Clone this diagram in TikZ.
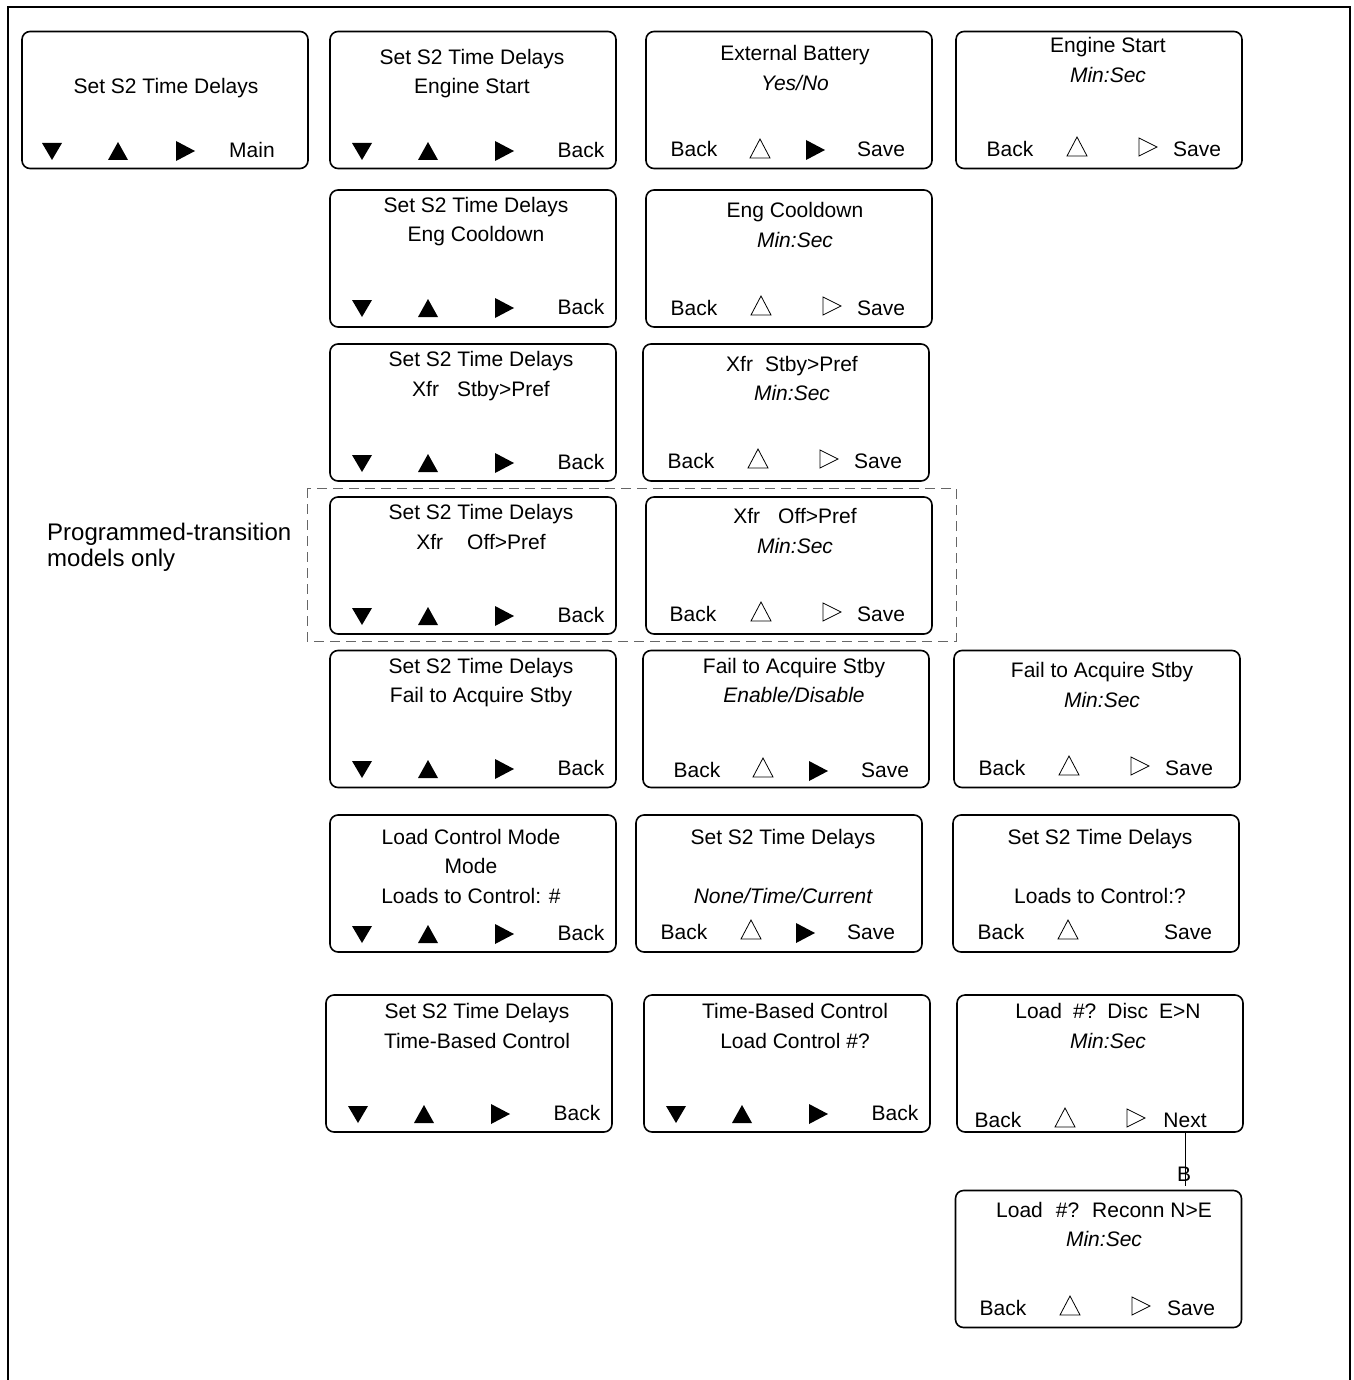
\documentclass[tikz,border=0pt]{standalone}
\usepackage{fontspec}
\setmainfont{Liberation Sans}
\begin{document}
\begin{tikzpicture}[x=1pt,y=-1pt,
  scr/.style={draw, line width=1.6pt, rounded corners=8pt, minimum width=286pt, minimum height=137pt, inner sep=0pt},
  lbl/.style={font=\fontsize{21}{25}\selectfont, anchor=mid, inner sep=0pt, yshift=-5pt},
  itl/.style={font=\fontsize{21}{25}\selectfont\itshape, anchor=mid, inner sep=0pt, yshift=-5pt},
  side/.style={font=\fontsize{24}{28}\selectfont, anchor=mid west, inner sep=0pt, yshift=-5pt},
  tridn/.pic={\fill (-10,-8) -- (10,-8) -- (0,9) -- cycle;},
  triup/.pic={\fill (-10,9) -- (10,9) -- (0,-9) -- cycle;},
  trirt/.pic={\fill (-9,-10) -- (-9,10) -- (10,0) -- cycle;},
  otriup/.pic={\draw[line width=0.8pt, line join=miter] (-10,9) -- (10,9) -- (0,-10) -- cycle;},
  otrirt/.pic={\draw[line width=0.8pt, line join=miter] (-9,-9) -- (-9,9) -- (9,0) -- cycle;},
]
\useasboundingbox (0,0) rectangle (1353,1380);
% outer frame
\draw[line width=2pt] (8,1381) -- (8,7) -- (1350,7) -- (1350,1381);

% dashed group
\draw[line width=0.8pt, draw=black!60, dash pattern=on 10pt off 6pt] (307,488) rectangle (956,641);
\node[side] (prog1) at (47,533) {Programmed-transition};
\node[side] (prog2) at (47,559) {models only};

% ---------- Row A ----------
\node[scr] (a1) at (165,100) {};
\node[lbl] (a1t) at (166,86) {Set S2 Time Delays};
\pic at (52,151) {tridn}; \pic at (118,151) {triup}; \pic at (185,151) {trirt};
\node[lbl] (a1b) at (252,150) {Main};

\node[scr] (a2) at (473,100) {};
\node[lbl] (a2t1) at (472,57) {Set S2 Time Delays};
\node[lbl] (a2t2) at (472,86) {Engine Start};
\pic at (362,151) {tridn}; \pic at (428,151) {triup}; \pic at (504,151) {trirt};
\node[lbl] (a2b) at (581,150) {Back};

\node[scr] (a3) at (789,100) {};
\node[lbl] (a3t1) at (795,53) {External Battery};
\node[itl] (a3t2) at (795,83) {Yes/No};
\node[lbl] (a3b1) at (694,149) {Back};
\pic at (760,149) {otriup}; \pic at (815,150) {trirt};
\node[lbl] (a3b2) at (881,149) {Save};

\node[scr] (a4) at (1099,100) {};
\node[lbl] (a4t1) at (1108,45) {Engine Start};
\node[itl] (a4t2) at (1108,75) {Min:Sec};
\node[lbl] (a4b1) at (1010,149) {Back};
\pic at (1077,147) {otriup}; \pic at (1148,147) {otrirt};
\node[lbl] (a4b2) at (1197,149) {Save};

% ---------- Row B ----------
\node[scr] (b2) at (473,258.5) {};
\node[lbl] (b2t1) at (476,205) {Set S2 Time Delays};
\node[lbl] (b2t2) at (476,234) {Eng Cooldown};
\pic at (362,308) {tridn}; \pic at (428,308) {triup}; \pic at (504,308) {trirt};
\node[lbl] (b2b) at (581,307) {Back};

\node[scr] (b3) at (789,258.5) {};
\node[lbl] (b3t1) at (795,210) {Eng Cooldown};
\node[itl] (b3t2) at (795,240) {Min:Sec};
\node[lbl] (b3b1) at (694,308) {Back};
\pic at (761,306) {otriup}; \pic at (832,306) {otrirt};
\node[lbl] (b3b2) at (881,308) {Save};

% ---------- Row C ----------
\node[scr] (c2) at (473,412.5) {};
\node[lbl] (c2t1) at (481,359) {Set S2 Time Delays};
\node[lbl] (c2t2) at (481,389) {Xfr\hspace{18pt}Stby>Pref};
\pic at (362,463) {tridn}; \pic at (428,463) {triup}; \pic at (504,463) {trirt};
\node[lbl] (c2b) at (581,462) {Back};

\node[scr] (c3) at (786,412.5) {};
\node[lbl] (c3t1) at (792,364) {Xfr\hspace{12pt}Stby>Pref};
\node[itl] (c3t2) at (792,393) {Min:Sec};
\node[lbl] (c3b1) at (691,461) {Back};
\pic at (758,459) {otriup}; \pic at (829,459) {otrirt};
\node[lbl] (c3b2) at (878,461) {Save};

% ---------- Row D ----------
\node[scr] (d2) at (473,565.5) {};
\node[lbl] (d2t1) at (481,512) {Set S2 Time Delays};
\node[lbl] (d2t2) at (481,542) {Xfr\hspace{24pt}Off>Pref};
\pic at (362,616) {tridn}; \pic at (428,616) {triup}; \pic at (504,616) {trirt};
\node[lbl] (d2b) at (581,615) {Back};

\node[scr] (d3) at (789,565.5) {};
\node[lbl] (d3t1) at (795,516) {Xfr\hspace{18pt}Off>Pref};
\node[itl] (d3t2) at (795,546) {Min:Sec};
\node[lbl] (d3b1) at (693,614) {Back};
\pic at (761,612) {otriup}; \pic at (832,612) {otrirt};
\node[lbl] (d3b2) at (881,614) {Save};

% ---------- Row E ----------
\node[scr] (e2) at (473,719) {};
\node[lbl] (e2t1) at (481,666) {Set S2 Time Delays};
\node[lbl] (e2t2) at (481,695) {Fail to Acquire Stby};
\pic at (362,769) {tridn}; \pic at (428,769) {triup}; \pic at (504,769) {trirt};
\node[lbl] (e2b) at (581,768) {Back};

\node[scr] (e3) at (786,719) {};
\node[lbl] (e3t1) at (794,666) {Fail to Acquire Stby};
\node[itl] (e3t2) at (794,695) {Enable/Disable};
\node[lbl] (e3b1) at (697,770) {Back};
\pic at (763,768) {otriup}; \pic at (818,771) {trirt};
\node[lbl] (e3b2) at (885,770) {Save};

\node[scr] (e4) at (1097,719) {};
\node[lbl] (e4t1) at (1102,670) {Fail to Acquire Stby};
\node[itl] (e4t2) at (1102,700) {Min:Sec};
\node[lbl] (e4b1) at (1002,768) {Back};
\pic at (1069,766) {otriup}; \pic at (1140,766) {otrirt};
\node[lbl] (e4b2) at (1189,768) {Save};

% ---------- Row F ----------
\node[scr] (f2) at (473,883.5) {};
\node[lbl] (f2t1) at (471,837) {Load Control Mode};
\node[lbl] (f2t2) at (471,866) {Mode};
\node[lbl] (f2t3) at (471,896) {Loads to Control: \#};
\pic at (362,934) {tridn}; \pic at (428,934) {triup}; \pic at (504,934) {trirt};
\node[lbl] (f2b) at (581,933) {Back};

\node[scr] (f3) at (779,883.5) {};
\node[lbl] (f3t1) at (783,837) {Set S2 Time Delays};
\node[itl] (f3t2) at (783,896) {None/Time/Current};
\node[lbl] (f3b1) at (684,932) {Back};
\pic at (751,930) {otriup}; \pic at (805,933) {trirt};
\node[lbl] (f3b2) at (871,932) {Save};

\node[scr] (f4) at (1096,883.5) {};
\node[lbl] (f4t1) at (1100,837) {Set S2 Time Delays};
\node[lbl] (f4t2) at (1100,896) {Loads to Control:?};
\node[lbl] (f4b1) at (1001,932) {Back};
\pic at (1068,930) {otriup};
\node[lbl] (f4b2) at (1188,932) {Save};

% ---------- Row G ----------
\node[scr] (g2) at (469,1063.5) {};
\node[lbl] (g2t1) at (477,1011) {Set S2 Time Delays};
\node[lbl] (g2t2) at (477,1041) {Time-Based Control};
\pic at (358,1114) {tridn}; \pic at (424,1114) {triup}; \pic at (500,1114) {trirt};
\node[lbl] (g2b) at (577,1113) {Back};

\node[scr] (g3) at (787,1063.5) {};
\node[lbl] (g3t1) at (795,1011) {Time-Based Control};
\node[lbl] (g3t2) at (795,1041) {Load Control \#?};
\pic at (676,1114) {tridn}; \pic at (742,1114) {triup}; \pic at (818,1114) {trirt};
\node[lbl] (g3b) at (895,1113) {Back};

\node[scr] (g4) at (1100,1063.5) {};
\node[lbl] (g4t1) at (1108,1011) {Load\hspace{11pt}\#?\hspace{11pt}Disc\hspace{11pt}E>N};
\node[itl] (g4t2) at (1108,1041) {Min:Sec};
\node[lbl] (g4b1) at (998,1120) {Back};
\pic at (1065,1118) {otriup}; \pic at (1136,1118) {otrirt};
\node[lbl] (g4b2) at (1185,1120) {Next};

% ---------- Row H ----------
\node[scr] (h4) at (1098.5,1259) {};
\node[lbl] (h4t1) at (1104,1210) {Load\hspace{13pt}\#?\hspace{13pt}Reconn N>E};
\node[itl] (h4t2) at (1104,1239) {Min:Sec};
\node[lbl] (h4b1) at (1003,1308) {Back};
\pic at (1070,1306) {otriup}; \pic at (1141,1306) {otrirt};
\node[lbl] (h4b2) at (1191,1308) {Save};

% connector B
\coordinate (bx) at (1185,0);
\coordinate (bend) at (1185,1186);
\node[lbl] (blab) at (1184,1174) {B};
\draw[line width=0.8pt] (g4.south -| bx) -- (bend);
\end{tikzpicture}
\end{document}
